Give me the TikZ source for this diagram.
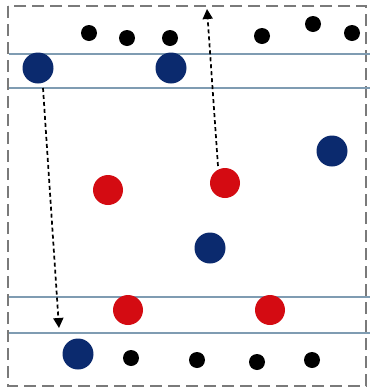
\documentclass[tikz,border=0pt]{standalone}
\usetikzlibrary{arrows.meta}
\definecolor{dblue}{HTML}{0B2A6E}
\definecolor{dred}{HTML}{D40B12}
\definecolor{bandc}{HTML}{7F9CB2}
\definecolor{borderc}{HTML}{7A7A7A}
\tikzset{
  bigblue/.style={circle,fill=dblue,inner sep=0pt,minimum size=31pt},
  bigred/.style={circle,fill=dred,inner sep=0pt,minimum size=30pt},
  smalldot/.style={circle,fill=black,inner sep=0pt,minimum size=16pt},
  bandline/.style={draw=bandc,line width=1.3pt},
  moveline/.style={draw=black,line width=1.7pt,dash pattern=on 4pt off 3pt,-{Triangle[width=10pt,length=10pt]}}
}
\begin{document}
\begin{tikzpicture}[x=1pt,y=-1pt]
\useasboundingbox (0,0) rectangle (370,389);
\fill[white] (0,0) rectangle (370,389);
% outer dashed border
\draw[borderc,line width=1.8pt,dash pattern=on 12pt off 6pt] (8,6) rectangle (366,386);
% bands
\draw[bandline] (9,54) -- (370,54);
\draw[bandline] (9,88) -- (370,88);
\draw[bandline] (9,297) -- (370,297);
\draw[bandline] (9,333) -- (370,333);
% top small dots
\node[smalldot] (t1) at (89,33) {};
\node[smalldot] (t2) at (127,38) {};
\node[smalldot] (t3) at (170,38) {};
\node[smalldot] (t4) at (262,36) {};
\node[smalldot] (t5) at (313,24) {};
\node[smalldot] (t6) at (352,33) {};
% top band blue
\node[bigblue] (b1) at (38,68) {};
\node[bigblue] (b2) at (171,68) {};
% middle
\node[bigblue] (b3) at (332,151) {};
\node[bigred] (r1) at (108,190) {};
\node[bigred] (r2) at (225,183) {};
\node[bigblue] (b4) at (210,248) {};
% bottom band red
\node[bigred] (r3) at (128,310) {};
\node[bigred] (r4) at (270,310) {};
% bottom row
\node[bigblue] (b5) at (78,354) {};
\node[smalldot] (s1) at (131,358) {};
\node[smalldot] (s2) at (197,360) {};
\node[smalldot] (s3) at (257,362) {};
\node[smalldot] (s4) at (312,360) {};
% arrows
\coordinate (a1s) at (43,88);
\coordinate (a1e) at (59,328);
\coordinate (a2s) at (218,166);
\coordinate (a2e) at (207,9);
\draw[moveline] (a1s) -- (a1e);
\draw[moveline] (a2s) -- (a2e);
\end{tikzpicture}
\end{document}
